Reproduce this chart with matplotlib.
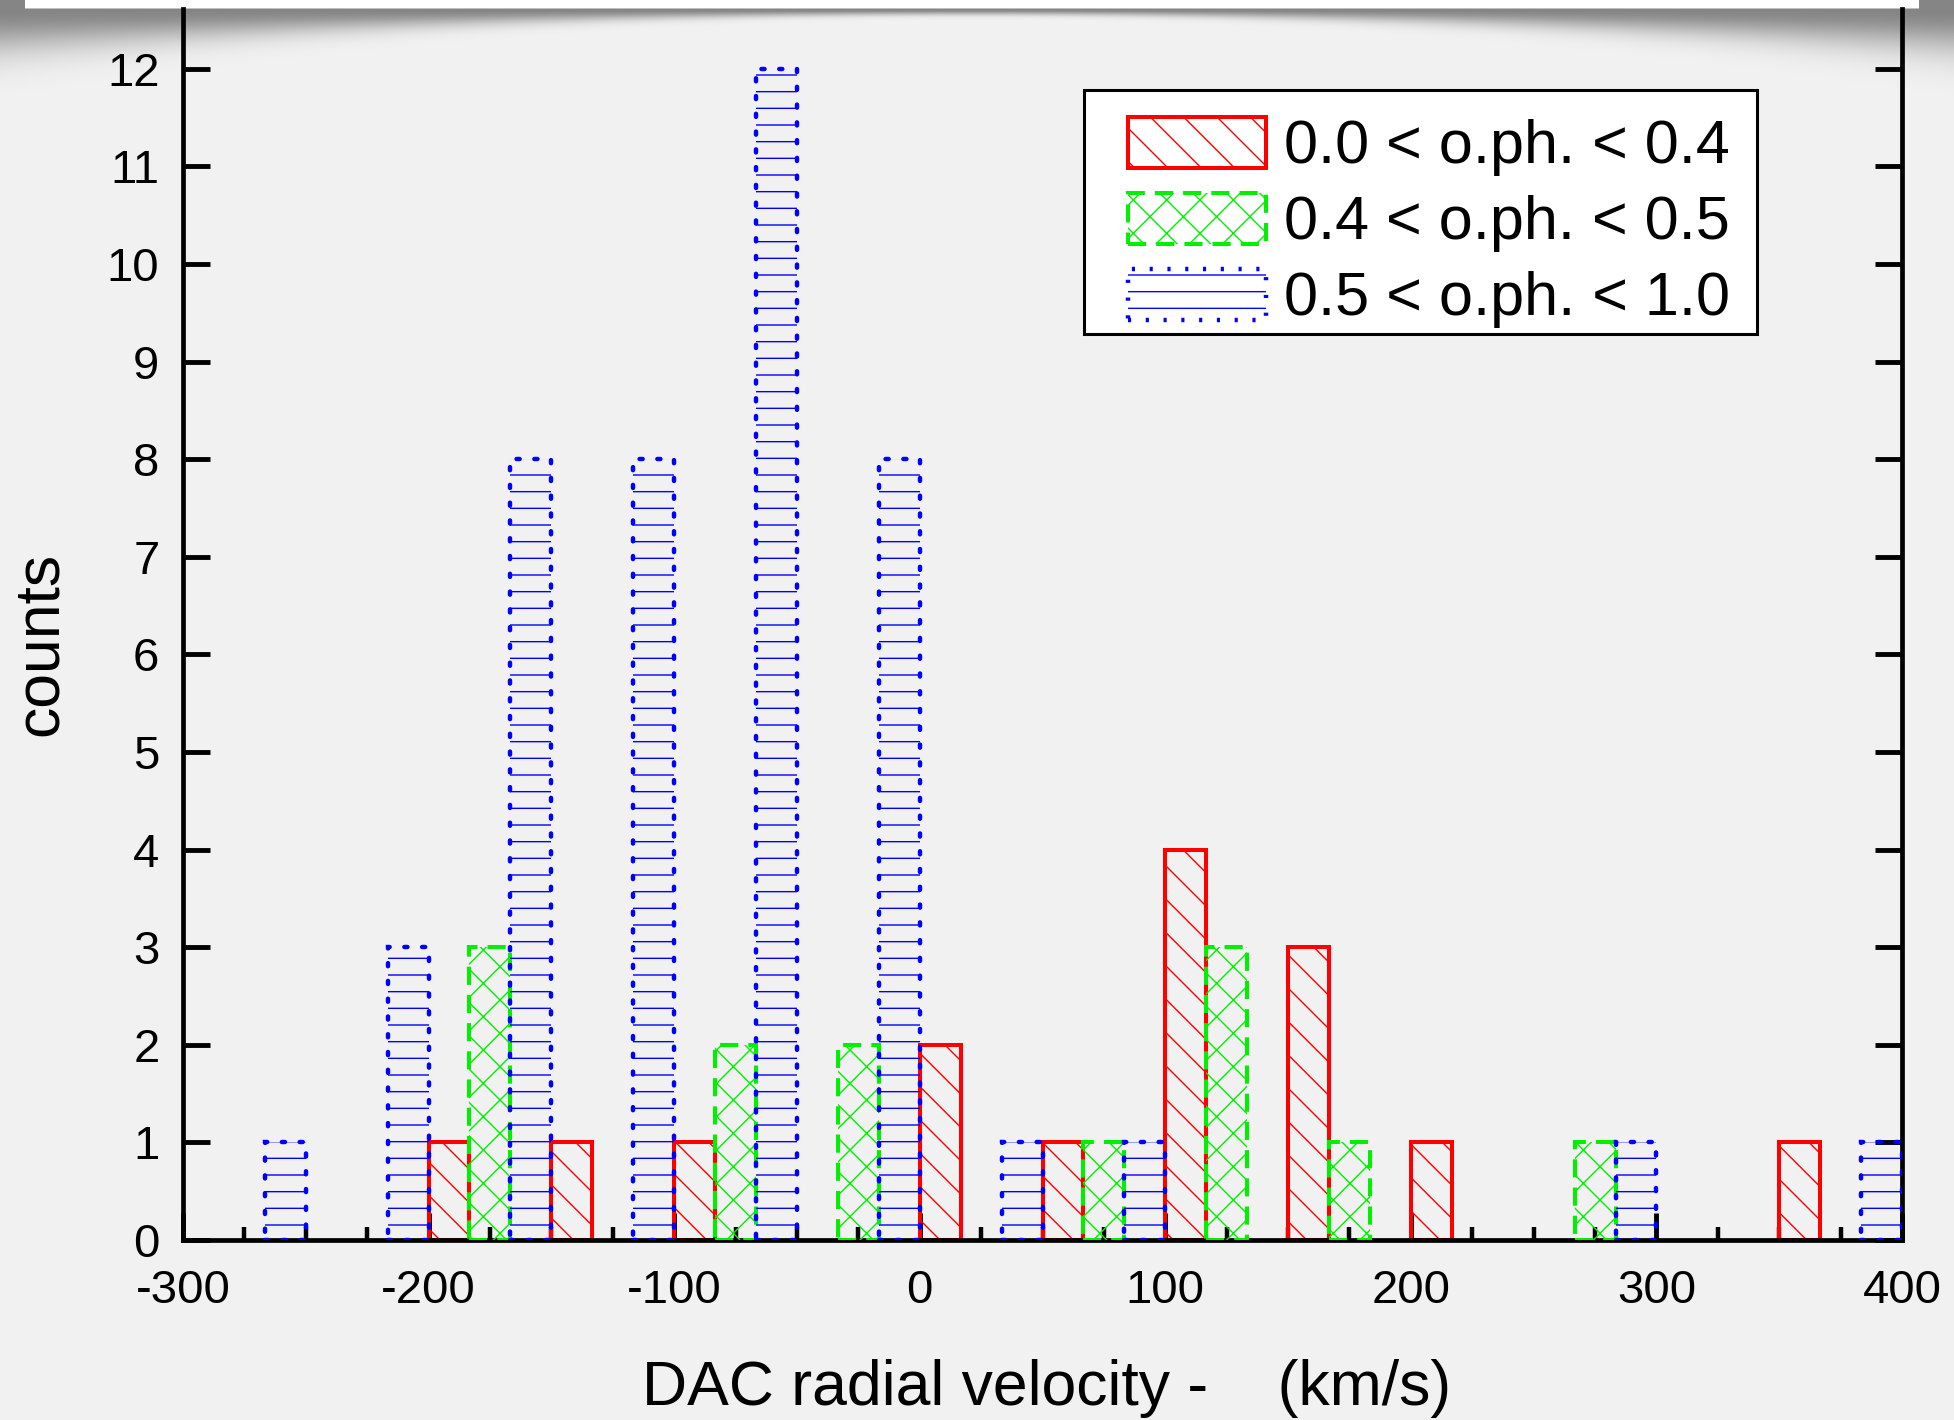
import matplotlib.pyplot as plt
from matplotlib.ticker import MultipleLocator
from matplotlib.patches import Rectangle
import numpy as np

# histogram bins (left edge, km/s), three phase groups share each 50 km/s bin
bins = [-300, -250, -200, -150, -100, -50, 0, 50, 100, 150, 200, 250, 300, 350]
red_counts = [0, 0, 1, 1, 1, 0, 2, 1, 4, 3, 1, 0, 0, 1]
green_counts = [0, 0, 3, 0, 2, 2, 0, 1, 3, 1, 0, 1, 0, 0]
blue_counts = [1, 3, 8, 8, 12, 8, 1, 1, 0, 0, 0, 1, 0, 1]
labels = ["0.0 < o.ph. < 0.4", "0.4 < o.ph. < 0.5", "0.5 < o.ph. < 1.0"]
xticks = [-300, -200, -100, 0, 100, 200, 300, 400]
yticks = list(range(0, 13))

plt.rcParams['font.family'] = ['Liberation Sans', 'DejaVu Sans']
plt.rcParams['hatch.linewidth'] = 1.0
plt.rcParams['axes.unicode_minus'] = False

W, H = 1954, 1420
fig = plt.figure(figsize=(W / 100, H / 100), dpi=100, facecolor='#f2f2f2')

# background: paper grey, white strip at the top with a curled shadow
bg = np.full((H, W, 3), 0.949)
xs = np.arange(W)[None, :]
ys = np.arange(H)[:, None]
u = (xs - W / 2) / (W / 2)
depth = 5 + 35 * u ** 2
shade = 0.45 * np.exp(-(np.clip(ys - 9, 0, None) / depth) ** 2)
shade = shade * (ys < 200)
side = 0.4 * np.exp(-(np.clip(25 - xs, 0, None) / 8.0) ** 2) * np.exp(-(ys / 45.0) ** 2) * (xs < 25)
shade = np.maximum(shade, side)
bg = bg * (1 - shade[..., None])
bg[:9, 25:1919] = 1.0
bg[8, 25:1919] = 0.75
fig.figimage(bg, 0, 0, origin='upper', zorder=-1)

ax_top = 9
ax = fig.add_axes([183 / W, 1 - 1240 / H, (1902 - 183) / W, (1240 - ax_top) / H])
ax.set_facecolor('none')

bw = 50 / 3
series = [
    (red_counts, 0, dict(edgecolor='red', hatch='\\', linestyle='-', linewidth=2.9)),
    (green_counts, 1, dict(edgecolor='#00f000', hatch='x', linestyle=(0, (4.5, 2.5)), linewidth=2.9)),
    (blue_counts, 2, dict(edgecolor='blue', hatch='-', linestyle=(0, (0.7, 3.3)), linewidth=3.2,
                           capstyle='round')),
]
handles = []
for counts, k, st in series:
    b = np.array(bins, dtype=float)
    c = np.array(counts, dtype=float)
    m = c > 0
    h = ax.bar(b[m] + k * bw, c[m], width=bw, align='edge', fill=False, zorder=2 + k, **st)
    handles.append(h)

ax.set_xlim(-300, 400)
ax.set_ylim(0, (1240 - ax_top) / 97.6)
ax.set_xticks(xticks)
ax.set_yticks(yticks)
ax.xaxis.set_minor_locator(MultipleLocator(25))
ax.tick_params(axis='both', which='major', direction='in', length=19.5, width=3.5,
               labelsize=34)
ax.tick_params(axis='y', right=True, pad=17)
ax.tick_params(axis='x', pad=21)
ax.tick_params(axis='x', which='minor', direction='in', length=9.5, width=3.2)
for s in ['left', 'right', 'bottom']:
    ax.spines[s].set_linewidth(3.4)
ax.spines['top'].set_visible(False)

hgt = 1240 - ax_top
ax.set_xlabel("DAC radial velocity -    (km/s)", fontsize=45, va='baseline')
ax.xaxis.set_label_coords(0.5026, (1240 - 1405) / hgt)
ax.set_ylabel("counts", fontsize=45, va='baseline')
ax.yaxis.set_label_coords((57 - 183) / 1719, (1240 - 644) / hgt)

# legend frame drawn separately so its padding matches
ax.add_patch(Rectangle(((1084 - 183) / 1719, (1240 - 334) / hgt), (1757 - 1084) / 1719,
                       (334 - 90) / hgt, transform=ax.transAxes, facecolor='white',
                       edgecolor='black', linewidth=2.2, zorder=6))
leg = ax.legend(handles, labels, loc='upper left',
                bbox_to_anchor=((1128 - 183) / 1719, (1240 - 117) / hgt),
                borderaxespad=0, borderpad=0, fontsize=44, frameon=False,
                handlelength=2.25, handleheight=0.9, labelspacing=0.27,
                handletextpad=0.3)
leg.set_zorder(7)

fig.savefig('out.png', dpi=100, facecolor=fig.get_facecolor())
